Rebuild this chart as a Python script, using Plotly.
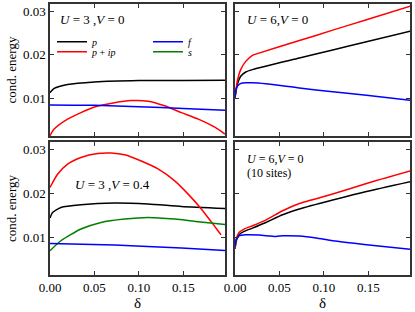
import plotly.graph_objects as go

# ---------------- data ----------------
# Top-left: U=3, V=0
d_tl_p = [0, 0.0047, 0.0198, 0.05, 0.1, 0.15, 0.197]
p_tl = [0.01136, 0.01235, 0.01325, 0.01384, 0.01416, 0.01416, 0.01424]
d_tl_pip = [0, 0.0047, 0.0198, 0.0349, 0.05, 0.0726, 0.0914, 0.1103, 0.129, 0.148, 0.167, 0.186, 0.197]
pip_tl = [0.00157, 0.00308, 0.00534, 0.00684, 0.00812, 0.0091, 0.00958, 0.00945, 0.0084, 0.00684, 0.00534, 0.00345, 0.00195]
d_tl_f = [0, 0.05, 0.1, 0.15, 0.197]
f_tl = [0.00860, 0.00852, 0.00818, 0.00778, 0.00740]

# Top-right: U=6, V=0
d_tr_pip = [0, 0.0026, 0.0064, 0.0121, 0.0196, 0.0234, 0.0725, 0.110, 0.148, 0.198]
pip_tr = [0.01023, 0.0140, 0.01664, 0.01852, 0.01988, 0.02017, 0.02326, 0.02564, 0.02802, 0.03117]
d_tr_p = [0, 0.0026, 0.0064, 0.0121, 0.0196, 0.0725, 0.110, 0.148, 0.198]
p_tr = [0.01023, 0.01325, 0.01513, 0.0161, 0.01664, 0.01927, 0.02112, 0.02299, 0.02546]
d_tr_f = [0, 0.0015, 0.0045, 0.0083, 0.0196, 0.0347, 0.0725, 0.110, 0.148, 0.198]
f_tr = [0.01023, 0.01235, 0.01325, 0.0136, 0.01362, 0.01339, 0.01244, 0.0116, 0.01077, 0.00964]

# Bottom-left: U=3, V=0.4
d_bl_pip = [0, 0.0085, 0.0198, 0.0349, 0.0537, 0.0688, 0.0839, 0.1027, 0.1216, 0.1404, 0.1555, 0.1706, 0.182, 0.1925]
pip_bl = [0.0213, 0.0243, 0.0266, 0.0281, 0.0290, 0.0291, 0.0287, 0.0273, 0.0255, 0.0228, 0.0198, 0.0164, 0.0134, 0.0106]
d_bl_p = [0, 0.0028, 0.0123, 0.0349, 0.0726, 0.1103, 0.148, 0.197]
p_bl = [0.01438, 0.01565, 0.01678, 0.01739, 0.01777, 0.01755, 0.01701, 0.01655]
d_bl_s = [0, 0.0123, 0.0349, 0.0575, 0.0839, 0.1103, 0.1404, 0.167, 0.197]
s_bl = [0.0070, 0.00925, 0.0119, 0.0134, 0.01416, 0.01452, 0.01416, 0.01355, 0.01294]
d_bl_f = [0, 0.0726, 0.148, 0.197]
f_bl = [0.00864, 0.00828, 0.0076, 0.00706]

# Bottom-right: U=6, V=0 (10 sites)
d_br = [0, 0.0015, 0.0045, 0.0102, 0.0196, 0.0347, 0.0536, 0.0725, 0.110, 0.148, 0.198]
pip_br = [0.00738, 0.00964, 0.01113, 0.0119, 0.01264, 0.01393, 0.01603, 0.01768, 0.01981, 0.0222, 0.02507]
p_br = [0.00738, 0.00925, 0.01061, 0.01136, 0.01212, 0.01339, 0.01513, 0.01642, 0.01845, 0.0204, 0.02266]
d_br_f = [0, 0.0015, 0.0045, 0.0121, 0.0272, 0.046, 0.0536, 0.0725, 0.0914, 0.110, 0.148, 0.198]
f_br = [0.0079, 0.00964, 0.01038, 0.01061, 0.01054, 0.01023, 0.01038, 0.0103, 0.00986, 0.00925, 0.00835, 0.00729]

x_ticks = [0.0, 0.05, 0.10, 0.15]
x_tick_labels = ["0.00", "0.05", "0.10", "0.15"]
y_ticks = [0.01, 0.02, 0.03]
y_tick_labels = ["0.01", "0.02", "0.03"]

# ---------------- styling ----------------
BLACK, RED, BLUE, GREEN = "#000000", "#ff0000", "#0000ff", "#008000"
LW = 1.5
FONT = "Liberation Serif"
XR = [0, 0.197]
YR = [0.0015, 0.0316]

fig = go.Figure()

def add(x, y, color, xa, ya, name=None, legend=None):
    fig.add_trace(go.Scatter(
        x=x, y=y, mode="lines", line=dict(color=color, width=LW, shape="spline", smoothing=0.6),
        xaxis=xa, yaxis=ya, name=name or "", showlegend=legend is not None,
        legend=legend or "legend", hoverinfo="skip"))

# top-left
add(d_tl_p, p_tl, BLACK, "x", "y", "<i>p</i>", "legend")
add(d_tl_pip, pip_tl, RED, "x", "y", "<i>p</i> + <i>ip</i>", "legend2")
add(d_tl_f, f_tl, BLUE, "x", "y", "<i>f</i>", "legend3")
# s entry for the legend (s only has data in the V=0.4 panel)
fig.add_trace(go.Scatter(x=[None], y=[None], mode="lines", line=dict(color=GREEN, width=LW),
                         xaxis="x", yaxis="y", name="<i>s</i>", legend="legend4", showlegend=True))
# top-right
add(d_tr_p, p_tr, BLACK, "x2", "y2")
add(d_tr_pip, pip_tr, RED, "x2", "y2")
add(d_tr_f, f_tr, BLUE, "x2", "y2")
# bottom-left
add(d_bl_p, p_bl, BLACK, "x3", "y3")
add(d_bl_pip, pip_bl, RED, "x3", "y3")
add(d_bl_s, s_bl, GREEN, "x3", "y3")
add(d_bl_f, f_bl, BLUE, "x3", "y3")
# bottom-right
add(d_br, p_br, BLACK, "x4", "y4")
add(d_br, pip_br, RED, "x4", "y4")
add(d_br_f, f_br, BLUE, "x4", "y4")

# geometry (pixels): plot area x 50..410, y 2..275
W, H = 415, 312
ML, MR, MT, MB = 50, 5, 2, 37
PW, PH = W - ML - MR, H - MT - MB
def px(x):
    return (x - ML) / PW
def py(y):
    return (H - MB - y) / PH

xdom_l = [px(50), px(225)]
xdom_r = [px(235), px(410)]
ydom_t = [py(135), py(2)]
ydom_b = [py(275), py(141)]

axcommon = dict(showline=True, linecolor="#333333", linewidth=1.5, mirror="ticks",
                ticks="inside", ticklen=4, tickwidth=1, tickcolor="#333333",
                showgrid=False, zeroline=False,
                tickfont=dict(family=FONT, size=13, color="black"))

def xax(dom, anchor, labels):
    d = dict(axcommon, domain=dom, anchor=anchor, range=XR,
             tickvals=x_ticks, ticktext=x_tick_labels, showticklabels=labels)
    if labels:
        d["title"] = dict(text="δ", font=dict(family=FONT, size=15, color="black"), standoff=2)
    return d

def yax(dom, anchor, labels):
    d = dict(axcommon, domain=dom, anchor=anchor, range=YR,
             tickvals=y_ticks, ticktext=y_tick_labels, showticklabels=labels)
    if labels:
        d["title"] = dict(text="cond. energy", font=dict(family=FONT, size=13, color="black"), standoff=3)
    return d

leg = lambda x, y: dict(x=px(x), y=py(y), xanchor="left", yanchor="middle",
                        bgcolor="rgba(0,0,0,0)", borderwidth=0,
                        font=dict(family=FONT, size=10, color="black"),
                        itemwidth=30, tracegroupgap=0)

def ann(text, xref, yref, x, y, size=13):
    return dict(text=text, xref=xref, yref=yref, x=x, y=y, xanchor="left", yanchor="middle",
                showarrow=False, font=dict(family=FONT, size=size, color="black"))

fig.update_layout(
    width=W, height=H, margin=dict(l=ML, r=MR, t=MT, b=MB),
    paper_bgcolor="white", plot_bgcolor="white",
    font=dict(family=FONT, size=12, color="black"),
    xaxis=xax(xdom_l, "y", False), yaxis=yax(ydom_t, "x", True),
    xaxis2=xax(xdom_r, "y2", False), yaxis2=yax(ydom_t, "x2", False),
    xaxis3=xax(xdom_l, "y3", True), yaxis3=yax(ydom_b, "x3", True),
    xaxis4=xax(xdom_r, "y4", True), yaxis4=yax(ydom_b, "x4", False),
    legend=leg(52, 40), legend2=leg(52, 50), legend3=leg(148, 40), legend4=leg(148, 50),
    annotations=[
        ann("<i>U</i> = 3 ,<i>V</i> = 0", "x domain", "y domain", 0.046, 0.88),
        ann("<i>U</i> = 6,<i>V</i> = 0", "x2 domain", "y2 domain", 0.057, 0.88),
        ann("<i>U</i> = 3 ,<i>V</i> = 0.4", "x3 domain", "y3 domain", 0.131, 0.684),
        ann("<i>U</i> = 6,<i>V</i> = 0", "x4 domain", "y4 domain", 0.057, 0.875, 12),
        ann("(10 sites)", "x4 domain", "y4 domain", 0.057, 0.765, 12),
    ],
)

fig.write_html("out.html", config={"displayModeBar": False},
               post_script="document.body.style.margin='0';")
